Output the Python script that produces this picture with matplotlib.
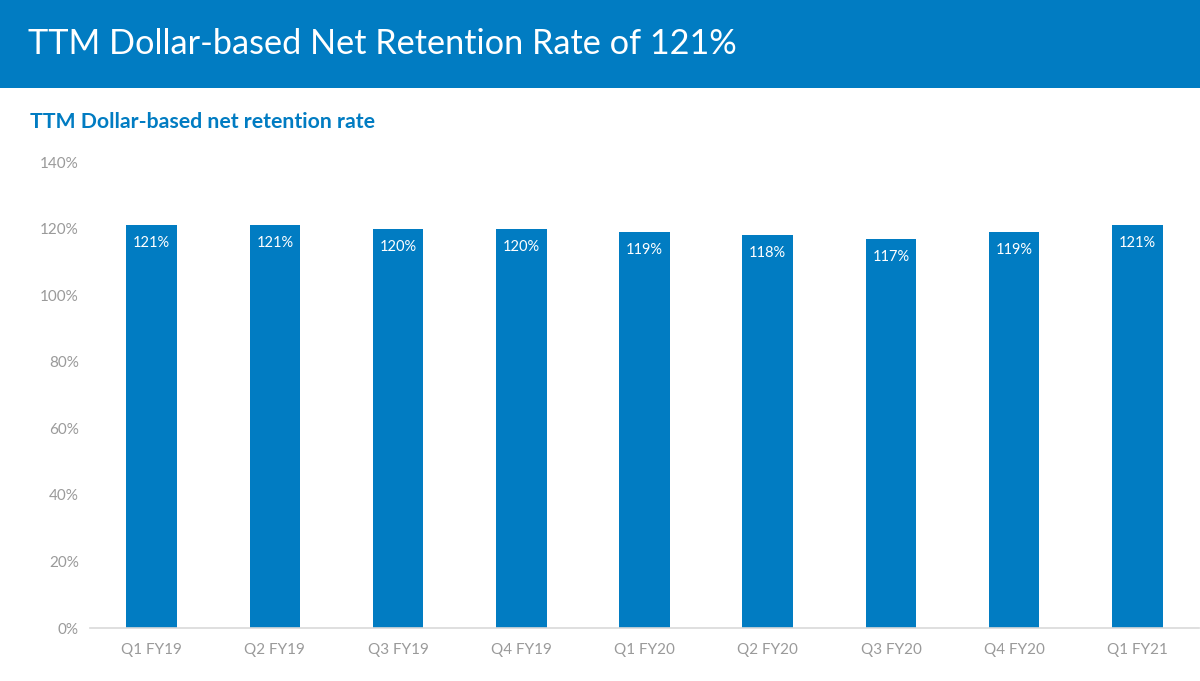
import matplotlib
matplotlib.use("Agg")
import matplotlib.pyplot as plt

# data
QUARTERS = ["Q1 FY19", "Q2 FY19", "Q3 FY19", "Q4 FY19", "Q1 FY20",
            "Q2 FY20", "Q3 FY20", "Q4 FY20", "Q1 FY21"]
RETENTION = [121, 121, 120, 120, 119, 118, 117, 119, 121]
Y_TICKS = [0, 20, 40, 60, 80, 100, 120, 140]

TITLE = "TTM Dollar-based Net Retention Rate of 121%"
SUBTITLE = "TTM Dollar-based net retention rate"

BLUE = "#017CC2"
GREY = "#9A9A9A"

plt.rcParams["font.family"] = ["Lato", "DejaVu Sans"]

fig = plt.figure(figsize=(12, 6.81), dpi=100)

# header band
band = fig.add_axes([0, 1 - 88 / 681, 1, 88 / 681])
band.set_facecolor(BLUE)
band.set_xticks([])
band.set_yticks([])
for s in band.spines.values():
    s.set_visible(False)
fig.text(28 / 1200, 1 - 44 / 681, TITLE, color="white", fontsize=24.7,
         fontweight="normal", va="center", ha="left")
fig.text(30 / 1200, 1 - 122 / 681, SUBTITLE, color=BLUE, fontsize=15.3,
         fontweight="bold", va="center", ha="left")

ax = fig.add_axes([90 / 1200, 1 - 628 / 681, 1109 / 1200, (628 - 162) / 681])
x = range(len(QUARTERS))
ax.bar(x, RETENTION, width=0.41, color=BLUE, zorder=2)
for xi, v in zip(x, RETENTION):
    ax.text(xi, v - 5.4, f"{v}%", color="white", fontsize=10.5,
            ha="center", va="center", zorder=3)

ax.set_xlim(-0.5, len(QUARTERS) - 0.5)
ax.set_ylim(0, 140)
ax.set_yticks(Y_TICKS)
ax.set_yticklabels([f"{t}%" for t in Y_TICKS])
ax.set_xticks(list(x))
ax.set_xticklabels(QUARTERS)
ax.tick_params(axis="both", length=0, colors=GREY, labelsize=11)
ax.tick_params(axis="y", pad=8)
ax.tick_params(axis="x", pad=11)
for name, s in ax.spines.items():
    if name == "bottom":
        s.set_color("#D9D9D9")
        s.set_linewidth(1.2)
    else:
        s.set_visible(False)

fig.savefig("out.png", dpi=100)
